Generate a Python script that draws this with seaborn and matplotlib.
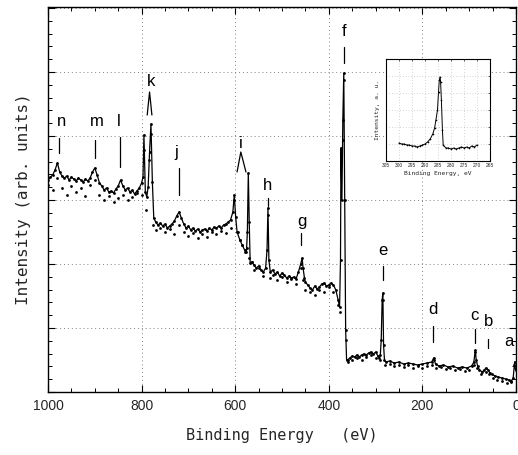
import matplotlib
matplotlib.use("Agg")
import matplotlib.pyplot as plt
from matplotlib.ticker import MultipleLocator
import numpy as np
import pandas as pd
import seaborn as sns

# ---------------- data ----------------
# spectrum 1 (solid line with dots): binding energy (eV), intensity (arb.)
energy_a = [1000, 995, 990, 985, 980, 975, 970, 965, 960, 955, 950, 945, 940, 935, 930, 925, 920, 915, 910, 905,
            900, 895, 890, 885, 880, 875, 870, 865, 860, 855, 850, 845, 840, 835, 830, 825, 820, 815, 810, 805,
            800, 797, 795, 792, 789, 786, 783, 780, 777, 774, 770, 765, 760, 755, 750, 745, 740, 735, 730, 725,
            720, 715, 710, 705, 700, 695, 690, 685, 680, 675, 670, 665, 660, 655, 650, 645, 640, 635, 630, 625,
            620, 615, 610, 605, 602, 599, 596, 590, 585, 580, 576, 574, 572, 570, 568, 565, 560, 555, 550, 545,
            540, 535, 532, 530, 528, 525, 520, 515, 510, 505, 500, 495, 490, 485, 480, 475, 470, 465, 460, 457,
            455, 452, 450, 445, 440, 435, 430, 425, 420, 415, 410, 405, 400, 395, 390, 385, 380, 377, 375, 374,
            372, 370, 368, 366, 364, 362, 360, 355, 350, 345, 340, 335, 330, 325, 320, 315, 310, 305, 300, 295,
            292, 290, 288, 286, 284.5, 283, 281, 278, 270, 260, 250, 240, 230, 220, 210, 200, 190, 180, 176, 172,
            165, 155, 145, 135, 125, 115, 105, 95, 90, 87, 85, 82, 78, 72, 68, 64, 59, 56, 52, 45,
            38, 30, 22, 15, 10, 6, 3, 1]
intensity_a = [212, 215, 217, 222, 229, 220, 216, 214, 216, 212, 215, 213, 211, 214, 212, 210, 213, 211, 214, 220,
               224, 217, 209, 206, 202, 204, 200, 201, 199, 203, 206, 212, 206, 202, 204, 200, 202, 198, 201, 204,
               209, 215, 257, 200, 195, 205, 240, 268, 210, 174, 170, 167, 169, 166, 168, 164, 166, 168, 171, 176,
               180, 174, 168, 164, 166, 162, 164, 161, 163, 160, 162, 163, 161, 164, 162, 165, 164, 166, 164, 167,
               168, 170, 172, 180, 197, 175, 160, 152, 147, 142, 140, 160, 219, 170, 129, 130, 127, 124, 126, 122,
               120, 124, 142, 184, 132, 120, 122, 118, 120, 116, 119, 117, 114, 116, 114, 115, 113, 120, 128, 134,
               124, 114, 110, 107, 104, 102, 106, 103, 105, 108, 109, 106, 107, 109, 107, 102, 92, 85, 132, 244,
               192, 272, 319, 192, 62, 32, 32, 34, 36, 35, 37, 35, 37, 38, 37, 39, 40, 38, 40, 36,
               34, 37, 52, 92, 99, 47, 32, 30, 31, 29, 30, 28, 29, 28, 27, 28, 29, 30, 34, 28,
               26, 27, 25, 26, 24, 25, 24, 26, 30, 42, 32, 26, 22, 20, 22, 24, 22, 19, 18, 16,
               15, 14, 13, 12, 11, 14, 30, 22]

# spectrum 2 (dots only)
energy_b = [1000, 990, 980, 970, 960, 950, 940, 930, 920, 910, 900, 890, 880, 870, 860, 850, 840, 830, 820, 810,
            800, 795, 790, 785, 780, 776, 770, 760, 750, 740, 730, 720, 710, 700, 690, 680, 670, 660, 650, 640,
            630, 620, 610, 602, 595, 590, 585, 580, 575, 570, 565, 560, 550, 540, 530, 525, 520, 510, 500, 490,
            480, 470, 460, 455, 450, 440, 430, 420, 410, 400, 390, 380, 376, 374, 370, 368, 364, 360, 350, 340,
            330, 320, 310, 300, 290, 284.5, 280, 270, 260, 250, 240, 230, 220, 210, 200, 190, 180, 176, 170, 160,
            150, 140, 130, 120, 110, 100, 90, 87, 84, 75, 65, 58, 50, 40, 30, 20, 10, 4]
intensity_b = [207, 202, 214, 204, 197, 206, 200, 204, 196, 207, 212, 197, 192, 196, 190, 194, 197, 192, 195, 199,
               197, 242, 182, 232, 258, 167, 162, 164, 160, 163, 158, 167, 160, 156, 159, 154, 158, 155, 160, 158,
               161, 159, 164, 192, 160, 152, 147, 140, 144, 134, 130, 122, 124, 116, 177, 114, 117, 112, 115, 110,
               113, 108, 124, 112, 102, 100, 97, 102, 100, 105, 100, 87, 80, 237, 252, 312, 52, 30, 32, 34,
               32, 35, 37, 34, 32, 92, 27, 28, 26, 27, 25, 27, 24, 26, 24, 26, 27, 32, 24, 25,
               23, 24, 22, 23, 21, 22, 27, 40, 24, 18, 20, 18, 14, 12, 11, 9, 10, 27]

# peak labels: letter, text position (eV, intensity), marker line (eV, low, high)
peak_letters = ["n", "m", "l", "k", "j", "i", "h", "g", "f", "e", "d", "c", "b", "a"]
label_energy = [970, 895, 848, 780, 726, 588, 530, 457, 368, 284, 177, 88, 58, 15]
label_height = [270, 270, 270, 311, 240, 249, 206, 171, 360, 142, 82, 77, 70, 51]
mark_energy = [976, 900, 846, None, 720, None, 530, 459, 368, 284, 177, 88, 60, None]
mark_low = [239, 234, 225, None, 197, None, 186, 147, 329, 112, 50, 49, 44, None]
mark_high = [254, 252, 255, None, 224, None, 194, 159, 345, 126, 66, 63, 53, None]
# doublet carets (k, i)
caret_energy = [[788, 783, 778], [596, 588, 577]]
caret_height = [[277, 300, 277], [220, 240, 220]]

# inset: C 1s region
inset_energy = [300, 299, 298, 297, 296, 295, 294, 293, 292, 291, 290, 289, 288, 287, 286.3, 285.8, 285.2,
                284.8, 284.5, 284.2, 284.0, 283.7, 283.3, 283, 282, 281, 280, 279, 278, 277, 276, 275, 274,
                273, 272, 271, 270]
inset_intensity = [18, 17, 17, 16, 16, 15, 15, 14, 15, 16, 17, 19, 22, 27, 33, 41, 51,
                   69, 81, 84, 79, 61, 31, 16, 13, 13, 12, 13, 12, 13, 14, 13, 14,
                   13, 15, 14, 16]
inset_ticks = [305, 300, 295, 290, 285, 280, 275, 270, 265]
main_ticks = [1000, 800, 600, 400, 200, 0]

# ---------------- plotting ----------------
sns.set_theme(style="white")
plt.rcParams["font.family"] = ["Liberation Sans", "DejaVu Sans"]

fig = plt.figure(figsize=(5.18, 4.55), dpi=100)
ax = fig.add_axes([48 / 518, 1 - 392 / 455, 468 / 518, 385 / 455])

df_a = pd.DataFrame({"E": energy_a, "I": intensity_a})
df_b = pd.DataFrame({"E": energy_b, "I": intensity_b})

sns.scatterplot(data=df_b, x="E", y="I", ax=ax, color="black", s=4, linewidth=0, zorder=3)
sns.lineplot(data=df_a, x="E", y="I", ax=ax, color="black", lw=0.9, sort=False, estimator=None,
             marker="o", markersize=2, markeredgewidth=0, zorder=4)

ax.set_xlim(1000, 0)
ax.set_ylim(0, 385)
ax.set_xticks(main_ticks)
ax.set_xticklabels([str(t) for t in main_ticks], fontsize=10)
ax.xaxis.set_minor_locator(MultipleLocator(50))
ax.yaxis.set_major_locator(MultipleLocator(64))
ax.yaxis.set_minor_locator(MultipleLocator(12.8))
ax.set_yticklabels([])
ax.tick_params(which="both", direction="in", top=True, right=True, bottom=True, left=True, color="black")
ax.tick_params(which="major", length=5, width=0.8)
ax.tick_params(which="minor", length=3, width=0.7)
ax.tick_params(axis="x", pad=5)
ax.grid(True, which="major", linestyle=(0, (1, 3)), color="gray", lw=0.7)
for sp in ax.spines.values():
    sp.set_color("black")
    sp.set_linewidth(1.0)

ax.set_xlabel("Binding Energy   (eV)", family="DejaVu Sans Mono", fontsize=11, labelpad=11)
ax.set_ylabel("Intensity (arb. units)", family="DejaVu Sans Mono", fontsize=11.5, labelpad=9)

for lt, le, lh, me, ml, mh in zip(peak_letters, label_energy, label_height, mark_energy, mark_low, mark_high):
    ax.text(le, lh, lt, ha="center", va="center", fontsize=12, color="black", zorder=6)
    if me is not None:
        ax.plot([me, me], [ml, mh], color="black", lw=0.9, zorder=6)
for ce, ch in zip(caret_energy, caret_height):
    ax.plot(ce, ch, color="black", lw=0.9, zorder=6)

# inset
axi = fig.add_axes([386 / 518, 1 - 161 / 455, 104 / 518, 102 / 455])
axi.set_facecolor("white")
df_i = pd.DataFrame({"E": inset_energy, "I": inset_intensity})
sns.lineplot(data=df_i, x="E", y="I", ax=axi, color="black", lw=0.7, sort=False, estimator=None,
             marker="o", markersize=1.2, markeredgewidth=0)
axi.set_xlim(305, 265)
axi.set_ylim(0, 102)
axi.set_xticks(inset_ticks)
axi.set_xticklabels([str(t) for t in inset_ticks], fontsize=3.5)
axi.yaxis.set_major_locator(MultipleLocator(17))
axi.set_yticklabels([])
axi.tick_params(which="both", direction="in", length=1.5, width=0.5, pad=1.5, top=True, right=True)
axi.grid(True, linestyle=(0, (1, 4)), color="gray", lw=0.4)
for sp in axi.spines.values():
    sp.set_color("black")
    sp.set_linewidth(0.8)
axi.set_xlabel("Binding Energy, eV", fontsize=4.5, family="DejaVu Sans Mono", labelpad=2)
axi.set_ylabel("Intensity, a. u.", fontsize=4.5, family="DejaVu Sans Mono", labelpad=3)

fig.savefig("out.png", dpi=100)
